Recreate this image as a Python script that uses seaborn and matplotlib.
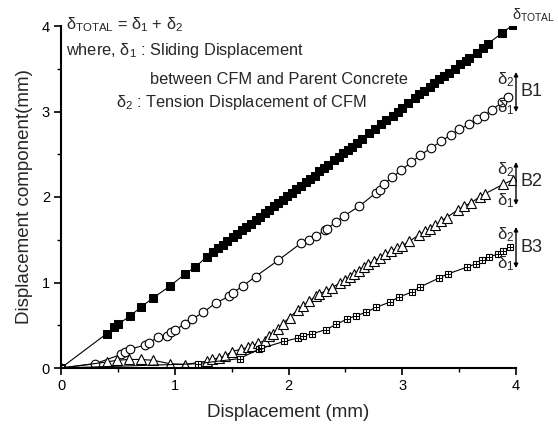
import matplotlib
matplotlib.use("Agg")
import matplotlib.pyplot as plt
import seaborn as sns
import pandas as pd
from matplotlib.ticker import MultipleLocator

# ---------------- data ----------------
total_x = [0.00, 0.40, 0.47, 0.50, 0.61, 0.70, 0.81, 0.96, 1.09, 1.18, 1.28, 1.34, 1.38, 1.42, 1.46,
           1.51, 1.55, 1.59, 1.63, 1.67, 1.71, 1.75, 1.79, 1.83, 1.87, 1.91, 1.95, 1.99, 2.03, 2.07,
           2.11, 2.15, 2.19, 2.23, 2.27, 2.31, 2.35, 2.40, 2.44, 2.48, 2.52, 2.56, 2.60, 2.65, 2.71,
           2.76, 2.81, 2.86, 2.92, 2.96, 3.00, 3.05, 3.11, 3.15, 3.19, 3.24, 3.28, 3.32, 3.37, 3.41,
           3.46, 3.51, 3.56, 3.59, 3.66, 3.71, 3.75, 3.88, 3.97]
total_y = [0.00, 0.40, 0.48, 0.51, 0.61, 0.71, 0.82, 0.96, 1.10, 1.18, 1.30, 1.36, 1.40, 1.44, 1.48,
           1.53, 1.57, 1.61, 1.65, 1.69, 1.73, 1.77, 1.81, 1.85, 1.89, 1.93, 1.97, 2.01, 2.05, 2.09,
           2.13, 2.17, 2.21, 2.25, 2.30, 2.34, 2.38, 2.43, 2.47, 2.51, 2.55, 2.59, 2.63, 2.68, 2.75,
           2.80, 2.85, 2.90, 2.95, 2.99, 3.04, 3.10, 3.16, 3.20, 3.24, 3.29, 3.33, 3.38, 3.42, 3.45,
           3.50, 3.56, 3.59, 3.62, 3.69, 3.74, 3.79, 3.92, 4.01]

b1_x = [0.00, 0.30, 0.53, 0.56, 0.61, 0.74, 0.77, 0.85, 0.93, 0.97, 1.00, 1.09, 1.15, 1.25, 1.36,
        1.48, 1.51, 1.60, 1.71, 1.91, 2.11, 2.18, 2.24, 2.32, 2.34, 2.42, 2.49, 2.62, 2.77, 2.80,
        2.84, 2.91, 2.99, 3.08, 3.16, 3.25, 3.34, 3.43, 3.50, 3.59, 3.66, 3.72, 3.79, 3.88, 3.93]
b1_y = [0.00, 0.05, 0.16, 0.19, 0.22, 0.27, 0.29, 0.36, 0.38, 0.42, 0.45, 0.51, 0.57, 0.65, 0.76,
        0.84, 0.88, 0.96, 1.07, 1.26, 1.46, 1.50, 1.54, 1.61, 1.63, 1.71, 1.78, 1.89, 2.05, 2.08,
        2.15, 2.23, 2.31, 2.41, 2.49, 2.57, 2.65, 2.73, 2.79, 2.85, 2.91, 2.95, 3.02, 3.11, 3.17]

b2_x = [0.00, 0.40, 0.49, 0.60, 0.70, 0.81, 0.96, 1.09, 1.28, 1.33, 1.39, 1.44, 1.50, 1.58, 1.64,
        1.68, 1.73, 1.79, 1.83, 1.86, 1.91, 1.95, 2.01, 2.08, 2.13, 2.18, 2.24, 2.27, 2.33, 2.38,
        2.45, 2.50, 2.54, 2.58, 2.62, 2.66, 2.70, 2.75, 2.80, 2.85, 2.90, 2.95, 3.00, 3.06, 3.15,
        3.20, 3.24, 3.29, 3.34, 3.39, 3.49, 3.54, 3.60, 3.68, 3.73, 3.89, 3.97]
b2_y = [0.00, 0.07, 0.09, 0.10, 0.10, 0.09, 0.05, 0.04, 0.08, 0.10, 0.12, 0.14, 0.19, 0.22, 0.24,
        0.26, 0.29, 0.32, 0.37, 0.40, 0.46, 0.52, 0.59, 0.68, 0.72, 0.78, 0.84, 0.87, 0.90, 0.94,
        0.99, 1.03, 1.07, 1.10, 1.14, 1.18, 1.22, 1.25, 1.29, 1.33, 1.37, 1.40, 1.43, 1.48, 1.56,
        1.60, 1.63, 1.67, 1.72, 1.76, 1.85, 1.89, 1.93, 2.00, 2.04, 2.15, 2.20]

b3_x = [0.00, 1.20, 1.57, 1.74, 1.76, 1.96, 2.08, 2.13, 2.21, 2.33, 2.42, 2.51, 2.59, 2.68, 2.77,
        2.89, 2.97, 3.09, 3.16, 3.32, 3.40, 3.57, 3.65, 3.70, 3.76, 3.84, 3.89, 3.95]
b3_y = [0.00, 0.05, 0.11, 0.22, 0.23, 0.31, 0.35, 0.38, 0.40, 0.45, 0.51, 0.57, 0.61, 0.65, 0.71,
        0.77, 0.83, 0.89, 0.95, 1.05, 1.10, 1.18, 1.22, 1.26, 1.30, 1.33, 1.37, 1.42]

x_ticks = [0, 1, 2, 3, 4]
y_ticks = [0, 1, 2, 3, 4]
x_label = "Displacement (mm)"
y_label = "Displacement component(mm)"
group_labels = ["B1", "B2", "B3"]

# ---------------- style ----------------
sns.set_theme(style="ticks")
plt.rcParams["font.family"] = ["Liberation Sans", "DejaVu Sans"]
plt.rcParams["mathtext.fontset"] = "custom"
plt.rcParams["mathtext.rm"] = "Liberation Sans"
plt.rcParams["mathtext.it"] = "Liberation Sans:italic"
plt.rcParams["mathtext.bf"] = "Liberation Sans:bold"

W, H = 558, 426
fig = plt.figure(figsize=(W / 100, H / 100), dpi=100)
ax = fig.add_axes([61 / W, 1 - 368 / H, (516 - 61) / W, (368 - 26) / H])

def px(x, y):
    return x / W, 1 - y / H

line_kw = dict(color="black", linewidth=0.8, estimator=None, sort=False, ax=ax)

df_t = pd.DataFrame({"x": total_x, "y": total_y})
sns.lineplot(data=df_t, x="x", y="y", marker="s", markersize=5.3,
             markerfacecolor="black", markeredgecolor="black", **line_kw)

df_1 = pd.DataFrame({"x": b1_x, "y": b1_y})
sns.lineplot(data=df_1, x="x", y="y", marker="o", markersize=6.2,
             markerfacecolor="white", markeredgecolor="black", markeredgewidth=0.8, **line_kw)

df_2 = pd.DataFrame({"x": b2_x, "y": b2_y})
sns.lineplot(data=df_2, x="x", y="y", marker="^", markersize=7,
             markerfacecolor="white", markeredgecolor="black", markeredgewidth=0.8, **line_kw)

df_3 = pd.DataFrame({"x": b3_x, "y": b3_y})
sns.lineplot(data=df_3, x="x", y="y", marker="s", markersize=5.0,
             markerfacecolor="white", markeredgecolor="black", markeredgewidth=0.8, **line_kw)
sns.lineplot(data=df_3.iloc[1:], x="x", y="y", marker="+", markersize=5.0, linestyle="",
             markeredgecolor="black", markeredgewidth=0.7, color="black",
             estimator=None, sort=False, ax=ax)

ax.set_xlim(0, 4)
ax.set_ylim(0, 4)
ax.set_xticks(x_ticks)
ax.set_yticks(y_ticks)
ax.xaxis.set_minor_locator(MultipleLocator(0.5))
ax.yaxis.set_minor_locator(MultipleLocator(0.5))
ax.tick_params(which="major", direction="out", length=5, width=1.2, labelsize=10.5, color="black",
               labelcolor="black", pad=3)
ax.tick_params(which="minor", direction="out", length=3, width=1.0, color="black")
for s in ["top", "right"]:
    ax.spines[s].set_visible(False)
for s in ["left", "bottom"]:
    ax.spines[s].set_linewidth(1.5)
    ax.spines[s].set_color("black")
ax.set_xlabel(x_label, fontsize=13.5, labelpad=8)
ax.set_ylabel(y_label, fontsize=13.5, labelpad=6)

# ---------------- annotation text ----------------
fs = 11.8
fig.text(*px(66, 25), r"$\mathrm{δ_{TOTAL}}$ = $\mathrm{δ_1}$ + $\mathrm{δ_2}$",
         fontsize=fs, va="center", ha="left")
fig.text(*px(66, 50), r"where, $\mathrm{δ_1}$ : Sliding Displacement",
         fontsize=fs, va="center", ha="left")
fig.text(*px(150, 79), "between CFM and Parent Concrete",
         fontsize=fs, va="center", ha="left")
fig.text(*px(116, 103), r"$\mathrm{δ_2}$ : Tension Displacement of CFM",
         fontsize=fs, va="center", ha="left")

fig.text(*px(512, 15), r"$\mathrm{δ_{TOTAL}}$", fontsize=10.5, va="center", ha="left")

groups = [
    # (arrow top y px, arrow bottom y px, label y px)
    (72, 112, 91),
    (162, 205, 181),
    (227, 268, 247),
]
for lab, (yt, yb, yl) in zip(group_labels, groups):
    ax.annotate("", xy=px(516, yt), xytext=px(516, yb), xycoords="figure fraction",
                textcoords="figure fraction",
                arrowprops=dict(arrowstyle="<|-|>", color="black", lw=1.0,
                                mutation_scale=6, shrinkA=0, shrinkB=0),
                annotation_clip=False)
    fig.text(*px(520, yl), lab, fontsize=13, va="center", ha="left")
    fig.text(*px(514, yt + 8), r"$\mathrm{δ_2}$", fontsize=12, va="center", ha="right")
    fig.text(*px(514, yb - 4), r"$\mathrm{δ_1}$", fontsize=12, va="center", ha="right")

fig.savefig("out.png", dpi=100)
